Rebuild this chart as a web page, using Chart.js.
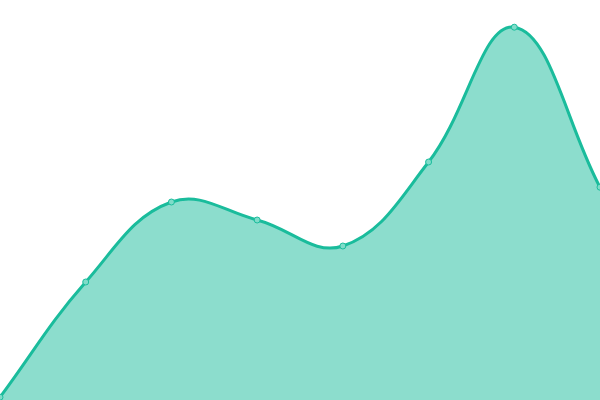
<!DOCTYPE html>
<html>
<head>
<meta charset="utf-8">
<script src="https://cdn.jsdelivr.net/npm/chart.js@4/dist/chart.umd.min.js"></script>
<style>
  html, body { margin: 0; padding: 0; background: #ffffff; }
  #wrap { position: relative; width: 600px; height: 400px; }
</style>
</head>
<body>
<div id="wrap"><canvas id="chart"></canvas></div>
<script>
var labels = ["1", "2", "3", "4", "5", "6", "7", "8"];
var values = [0.7, 29.5, 49.5, 45, 38.5, 59.5, 93.2, 53.2];
var yMin = 0;
var yMax = 100;

var ctx = document.getElementById("chart").getContext("2d");
new Chart(ctx, {
  type: "line",
  data: {
    labels: labels,
    datasets: [
      {
        data: values,
        fill: true,
        tension: 0.4,
        borderColor: "#1ABC9C",
        backgroundColor: "rgba(26,188,156,0.5)",
        borderWidth: 3,
        pointRadius: 3,
        pointBorderWidth: 1,
        pointBackgroundColor: "#7fdcc9",
        pointBorderColor: "#1ABC9C",
      },
    ],
  },
  options: {
    responsive: true,
    maintainAspectRatio: false,
    animation: false,
    layout: { padding: 0, autoPadding: false },
    plugins: {
      legend: { display: false },
      tooltip: { enabled: false },
    },
    scales: {
      x: { display: false },
      y: { display: false, min: yMin, max: yMax },
    },
  },
});
</script>
</body>
</html>
